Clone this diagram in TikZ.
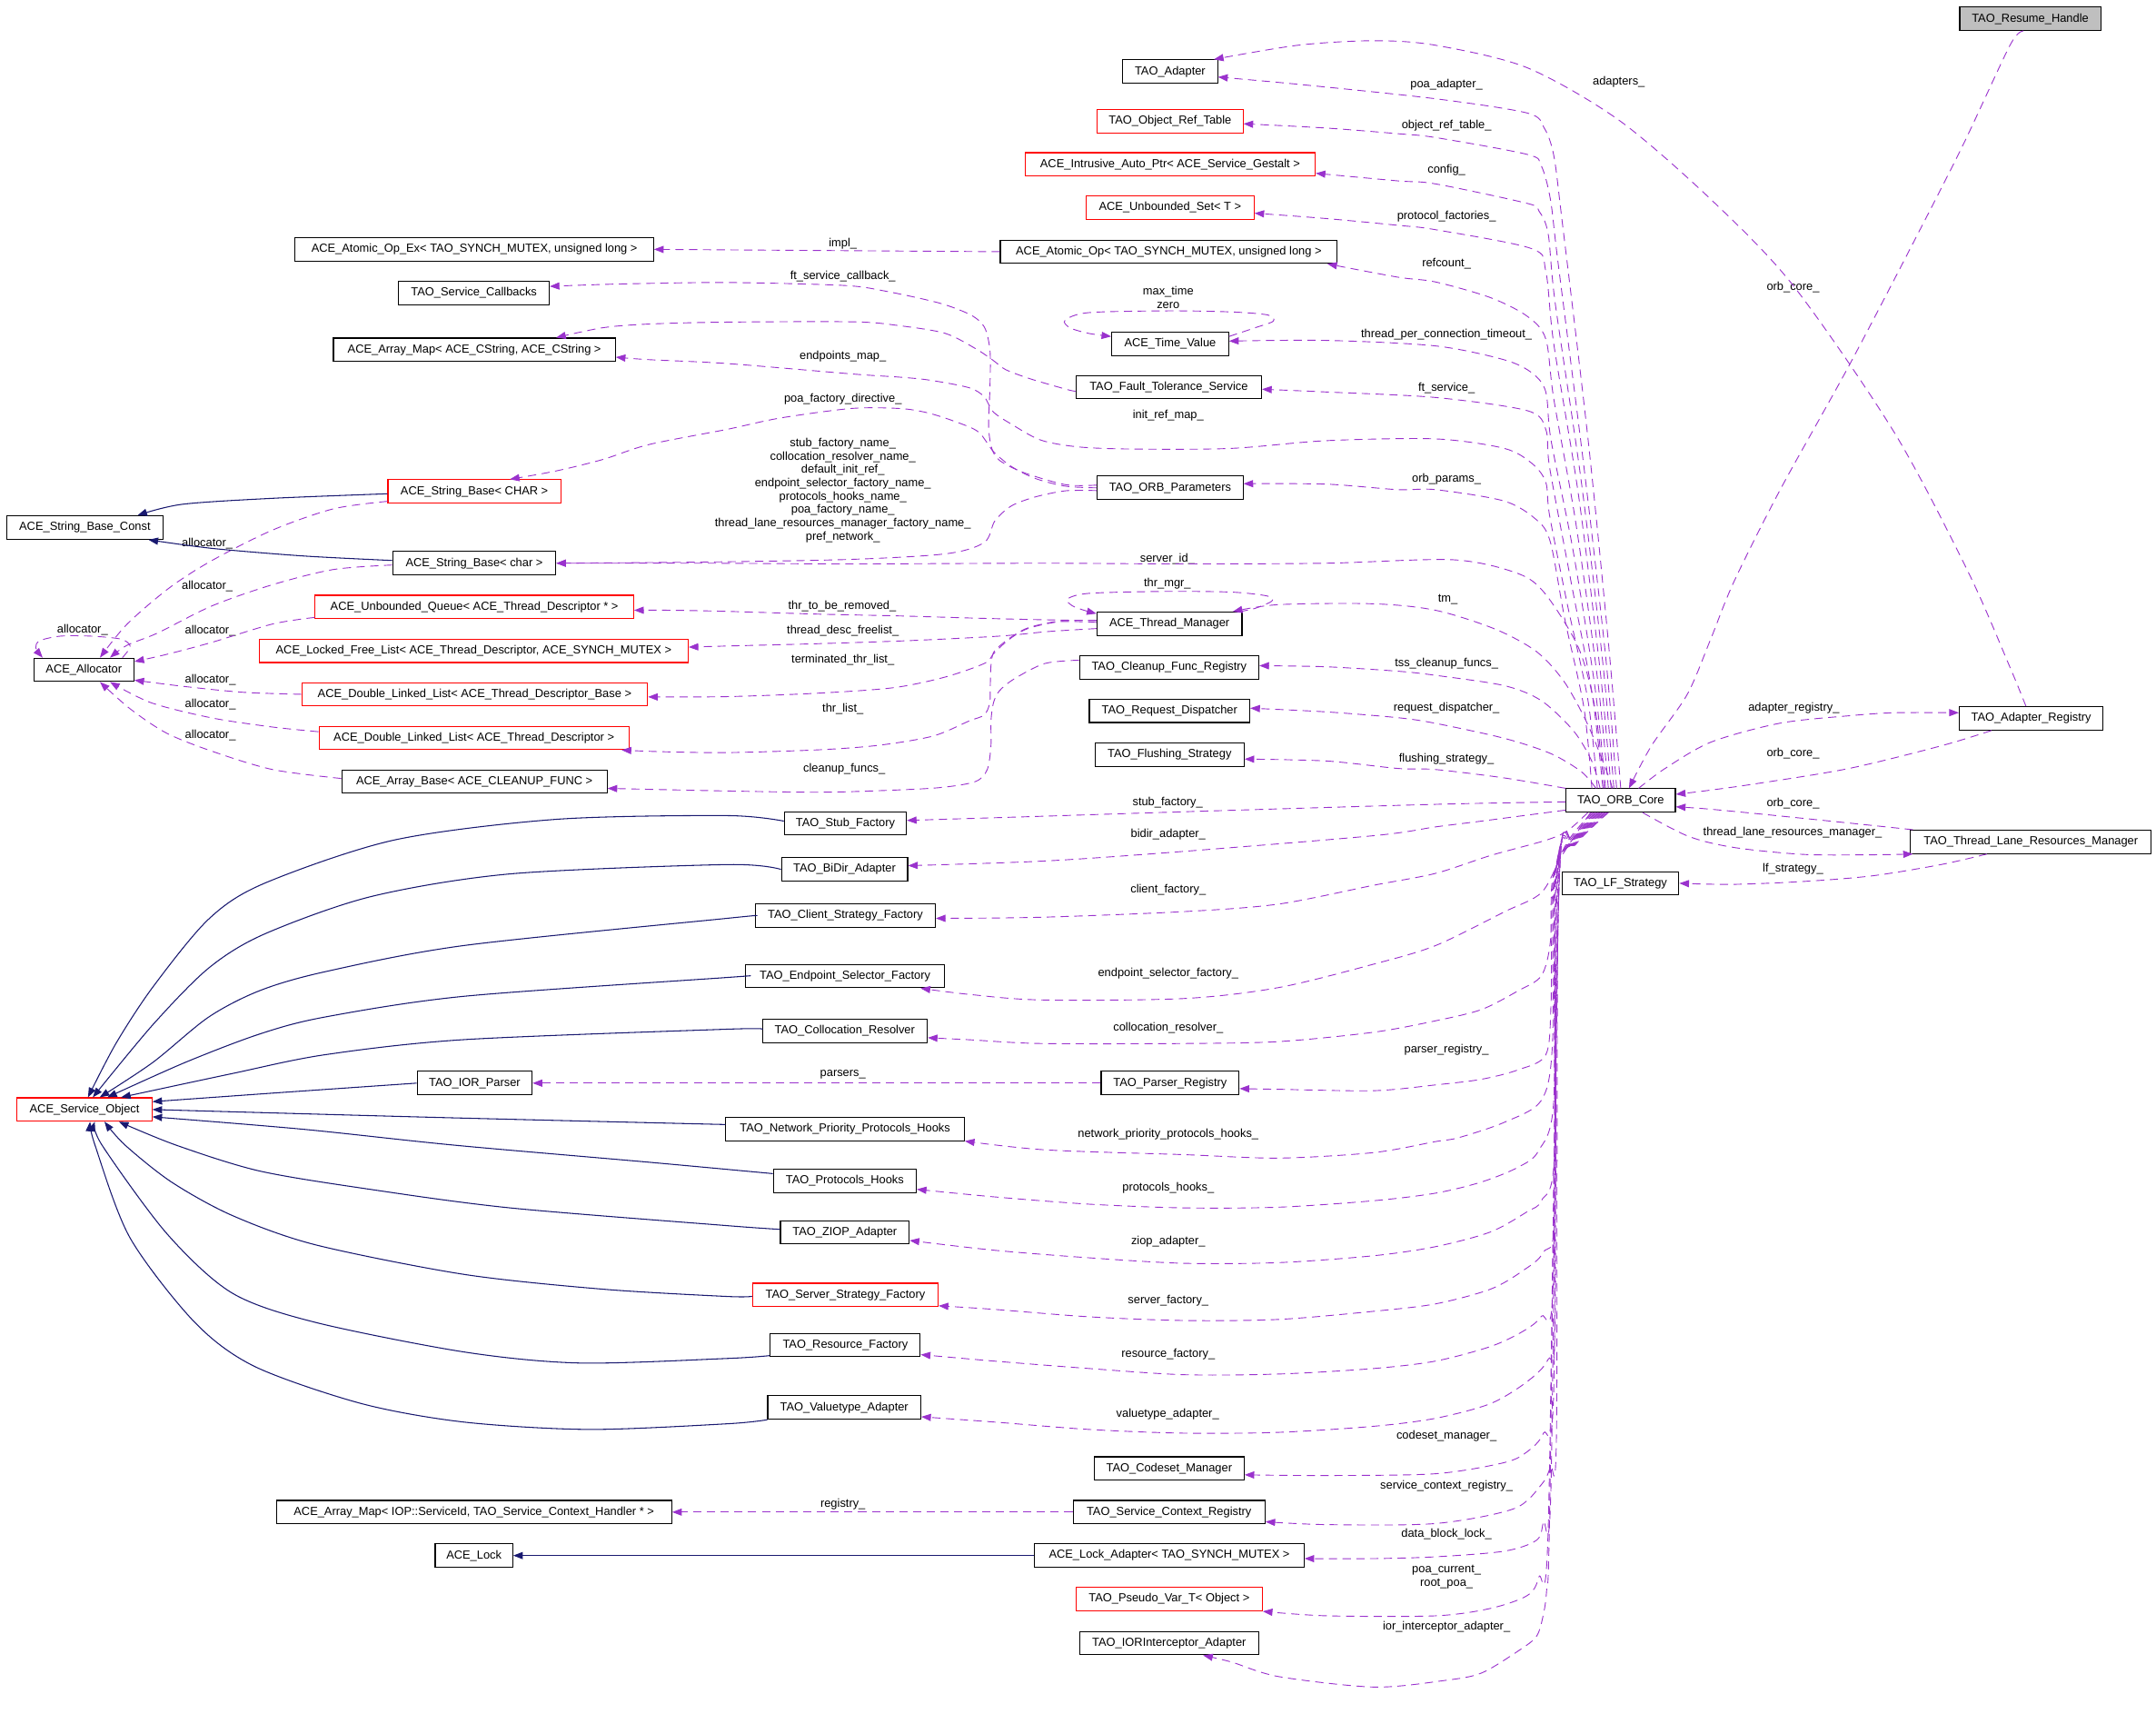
\documentclass[tikz,border=0pt]{standalone}
\usepackage{fontspec}
\setmainfont{Liberation Sans}
\usetikzlibrary{arrows.meta}
\definecolor{usecol}{HTML}{9A32CD}
\definecolor{inhcol}{HTML}{191970}
\definecolor{boxgrey}{HTML}{BFBFBF}
\tikzset{
  cls/.style={draw=black, line width=0.7pt, minimum height=17pt, inner sep=1pt, fill=white, font=\fontsize{8.5}{9.7}\selectfont},
  redcls/.style={cls, draw=red},
  rootcls/.style={cls, fill=boxgrey},
  lbl/.style={inner sep=0pt, align=center, font=\fontsize{8.5}{9.7}\selectfont},
  usedge/.style={draw=usecol, line width=0.6pt, dash pattern=on 6pt off 4pt, -{Triangle[length=7pt,width=5.2pt]}},
  inhedge/.style={draw=inhcol, line width=0.7pt, -{Triangle[length=7pt,width=5.2pt]}},
}
\begin{document}
\begin{tikzpicture}[x=1pt,y=-1pt]
\fill[white] (0,0) rectangle (1568,1253);
\useasboundingbox (0,0) rectangle (1568,1253);

% ---------- nodes ----------
\node[rootcls, minimum width=102.5pt] (resume) at (1476.5,13.7) {TAO\_Resume\_Handle};
\node[cls, minimum width=69pt] (adapter) at (851,52) {TAO\_Adapter};
\node[redcls, minimum width=106pt] (objref) at (851,88) {TAO\_Object\_Ref\_Table};
\node[redcls, minimum width=211pt] (intrusive) at (851,119.5) {ACE\_Intrusive\_Auto\_Ptr< ACE\_Service\_Gestalt >};
\node[redcls, minimum width=122pt] (uset) at (851,151) {ACE\_Unbounded\_Set< T >};
\node[cls, minimum width=245pt] (atomic) at (850,183) {ACE\_Atomic\_Op< TAO\_SYNCH\_MUTEX, unsigned long >};
\node[cls, minimum width=260.6pt] (atomicex) at (345,181.3) {ACE\_Atomic\_Op\_Ex< TAO\_SYNCH\_MUTEX, unsigned long >};
\node[cls, minimum width=109.5pt] (svccb) at (344.7,213) {TAO\_Service\_Callbacks};
\node[cls, minimum width=85pt] (timeval) at (851,250) {ACE\_Time\_Value};
\node[cls, minimum width=205pt] (amapcs) at (345,254.3) {ACE\_Array\_Map< ACE\_CString, ACE\_CString >};
\node[cls, minimum width=135pt] (fts) at (850,281.5) {TAO\_Fault\_Tolerance\_Service};
\node[cls, minimum width=106pt] (orbparams) at (851,354.7) {TAO\_ORB\_Parameters};
\node[redcls, minimum width=125.7pt] (sbCHAR) at (345,357.3) {ACE\_String\_Base< CHAR >};
\node[cls, minimum width=114pt] (sbconst) at (61.7,383.6) {ACE\_String\_Base\_Const};
\node[cls, minimum width=118.7pt] (sbchar) at (344.9,409.5) {ACE\_String\_Base< char >};
\node[redcls, minimum width=231.6pt] (uqueue) at (345,441.3) {ACE\_Unbounded\_Queue< ACE\_Thread\_Descriptor * >};
\node[cls, minimum width=105.5pt] (thrmgr) at (850.5,453.5) {ACE\_Thread\_Manager};
\node[redcls, minimum width=312pt] (lfl) at (344.5,473.2) {ACE\_Locked\_Free\_List< ACE\_Thread\_Descriptor, ACE\_SYNCH\_MUTEX >};
\node[cls, minimum width=72.8pt] (allocator) at (61,487) {ACE\_Allocator};
\node[cls, minimum width=130.5pt] (cleanup) at (850.3,485.3) {TAO\_Cleanup\_Func\_Registry};
\node[redcls, minimum width=251.5pt] (dllbase) at (345.2,504.8) {ACE\_Double\_Linked\_List< ACE\_Thread\_Descriptor\_Base >};
\node[cls, minimum width=116.7pt] (reqdisp) at (850.6,516.8) {TAO\_Request\_Dispatcher};
\node[cls, minimum width=104.5pt] (adreg) at (1477.2,522.3) {TAO\_Adapter\_Registry};
\node[redcls, minimum width=225.5pt] (dlltd) at (344.7,536.5) {ACE\_Double\_Linked\_List< ACE\_Thread\_Descriptor >};
\node[cls, minimum width=108.4pt] (flush) at (850.6,548.7) {TAO\_Flushing\_Strategy};
\node[cls, minimum width=193pt] (arraybase) at (345,568.2) {ACE\_Array\_Base< ACE\_CLEANUP\_FUNC >};
\node[cls, minimum width=79.5pt] (orbcore) at (1178.7,582) {TAO\_ORB\_Core};
\node[cls, minimum width=88.8pt] (stub) at (614.8,598.7) {TAO\_Stub\_Factory};
\node[cls, minimum width=175pt] (tlrm) at (1477,612.1) {TAO\_Thread\_Lane\_Resources\_Manager};
\node[cls, minimum width=91.8pt] (bidir) at (614.2,632.1) {TAO\_BiDir\_Adapter};
\node[cls, minimum width=85pt] (lf) at (1178.5,642.2) {TAO\_LF\_Strategy};
\node[cls, minimum width=131pt] (client) at (614.8,665.8) {TAO\_Client\_Strategy\_Factory};
\node[cls, minimum width=144.4pt] (endpoint) at (614.6,709.7) {TAO\_Endpoint\_Selector\_Factory};
\node[cls, minimum width=120pt] (colloc) at (614.4,749.5) {TAO\_Collocation\_Resolver};
\node[cls, minimum width=83.6pt] (iorparser) at (345.2,787.5) {TAO\_IOR\_Parser};
\node[cls, minimum width=100.3pt] (parserreg) at (851,787.5) {TAO\_Parser\_Registry};
\node[redcls, minimum width=98pt] (svcobj) at (61.5,806.7) {ACE\_Service\_Object};
\node[cls, minimum width=173.5pt] (netprio) at (614.6,820.8) {TAO\_Network\_Priority\_Protocols\_Hooks};
\node[cls, minimum width=104pt] (protohooks) at (614.4,858.7) {TAO\_Protocols\_Hooks};
\node[cls, minimum width=93.6pt] (ziop) at (614.4,896) {TAO\_ZIOP\_Adapter};
\node[redcls, minimum width=135pt] (serverstrat) at (614.8,941.5) {TAO\_Server\_Strategy\_Factory};
\node[cls, minimum width=109pt] (resfact) at (614.8,977.9) {TAO\_Resource\_Factory};
\node[cls, minimum width=111.3pt] (valuetype) at (614,1023.4) {TAO\_Valuetype\_Adapter};
\node[cls, minimum width=109pt] (codeset) at (850.3,1067.7) {TAO\_Codeset\_Manager};
\node[cls, minimum width=287.6pt] (amapiop) at (344.7,1099.4) {ACE\_Array\_Map< IOP::ServiceId, TAO\_Service\_Context\_Handler * >};
\node[cls, minimum width=139.6pt] (scr) at (850.2,1099.4) {TAO\_Service\_Context\_Registry};
\node[cls, minimum width=56.4pt] (acelock) at (344.7,1131) {ACE\_Lock};
\node[cls, minimum width=196pt] (lockadapter) at (850.4,1131) {ACE\_Lock\_Adapter< TAO\_SYNCH\_MUTEX >};
\node[redcls, minimum width=135.5pt] (pseudovar) at (850.3,1162.7) {TAO\_Pseudo\_Var\_T< Object >};
\node[cls, minimum width=130.5pt] (iorint) at (850.3,1194.7) {TAO\_IORInterceptor\_Adapter};

% ---------- labels ----------
\node[lbl] (l1) at (1052,61.4) {poa\_adapter\_};
\node[lbl] (l2) at (1052,91.5) {object\_ref\_table\_};
\node[lbl] (l3) at (1052,123.8) {config\_};
\node[lbl] (l4) at (1052,157.5) {protocol\_factories\_};
\node[lbl] (l5) at (1052,192) {refcount\_};
\node[lbl] (l6) at (849.6,216.2) {max\_time\\zero};
\node[lbl] (l7) at (1052,243.5) {thread\_per\_connection\_timeout\_};
\node[lbl] (l8) at (1052,282) {ft\_service\_};
\node[lbl] (l9) at (849.6,301.8) {init\_ref\_map\_};
\node[lbl] (l10) at (1052,348.1) {orb\_params\_};
\node[lbl] (l11) at (849,406.7) {server\_id\_};
\node[lbl] (l12) at (849,424.5) {thr\_mgr\_};
\node[lbl] (l13) at (1053,436) {tm\_};
\node[lbl] (l14) at (1052,482.6) {tss\_cleanup\_funcs\_};
\node[lbl] (l15) at (1052,515.1) {request\_dispatcher\_};
\node[lbl] (l16) at (1052,551.9) {flushing\_strategy\_};
\node[lbl] (l17) at (849.2,583.7) {stub\_factory\_};
\node[lbl] (l18) at (849.6,607) {bidir\_adapter\_};
\node[lbl] (l19) at (849.6,647.2) {client\_factory\_};
\node[lbl] (l20) at (849.6,708) {endpoint\_selector\_factory\_};
\node[lbl] (l21) at (849.6,747.7) {collocation\_resolver\_};
\node[lbl] (l22) at (1052,763.6) {parser\_registry\_};
\node[lbl] (l23) at (849.6,824.9) {network\_priority\_protocols\_hooks\_};
\node[lbl] (l24) at (849.6,864) {protocols\_hooks\_};
\node[lbl] (l25) at (849.6,902.9) {ziop\_adapter\_};
\node[lbl] (l26) at (849.6,945.8) {server\_factory\_};
\node[lbl] (l27) at (849.6,984.7) {resource\_factory\_};
\node[lbl] (l28) at (849.2,1028.5) {valuetype\_adapter\_};
\node[lbl] (l29) at (1052,1043.8) {codeset\_manager\_};
\node[lbl] (l30) at (1052,1080.5) {service\_context\_registry\_};
\node[lbl] (l31) at (1052,1115.7) {data\_block\_lock\_};
\node[lbl] (l32) at (1052,1146.6) {poa\_current\_\\root\_poa\_};
\node[lbl] (l33) at (1052,1182.8) {ior\_interceptor\_adapter\_};
\node[lbl] (l34) at (1177.3,59.7) {adapters\_};
\node[lbl] (l35) at (1304,209) {orb\_core\_};
\node[lbl] (l36) at (1304.6,515.1) {adapter\_registry\_};
\node[lbl] (l37) at (1304,547.8) {orb\_core\_};
\node[lbl] (l38) at (1304,584.5) {orb\_core\_};
\node[lbl] (l39) at (1303.7,605.5) {thread\_lane\_resources\_manager\_};
\node[lbl] (l40) at (1304,631.5) {lf\_strategy\_};
\node[lbl] (l41) at (613,177.5) {impl\_};
\node[lbl] (l42) at (613,201) {ft\_service\_callback\_};
\node[lbl] (l43) at (613,259.4) {endpoints\_map\_};
\node[lbl] (l44) at (613,290) {poa\_factory\_directive\_};
\node[lbl] (l45) at (613,356.4) {stub\_factory\_name\_\\collocation\_resolver\_name\_\\default\_init\_ref\_\\endpoint\_selector\_factory\_name\_\\protocols\_hooks\_name\_\\poa\_factory\_name\_\\thread\_lane\_resources\_manager\_factory\_name\_\\pref\_network\_};
\node[lbl] (l46) at (612.5,441) {thr\_to\_be\_removed\_};
\node[lbl] (l47) at (613,458.7) {thread\_desc\_freelist\_};
\node[lbl] (l48) at (613,480.1) {terminated\_thr\_list\_};
\node[lbl] (l49) at (613,515.7) {thr\_list\_};
\node[lbl] (l50) at (614,559.3) {cleanup\_funcs\_};
\node[lbl] (l51) at (613,781.3) {parsers\_};
\node[lbl] (l52) at (613,1093.4) {registry\_};
\node[lbl] (l53) at (150.7,395.2) {allocator\_};
\node[lbl] (l54) at (150.7,426.5) {allocator\_};
\node[lbl] (l55) at (60,457.9) {allocator\_};
\node[lbl] (l56) at (153,458.7) {allocator\_};
\node[lbl] (l57) at (153,494.6) {allocator\_};
\node[lbl] (l58) at (153,512.4) {allocator\_};
\node[lbl] (l59) at (153,534.4) {allocator\_};

% ---------- ORB core: upper fan ----------
\draw[usedge] plot[smooth] coordinates {(orbcore.north) (1170,470) (1155,320) (1136,160) (1130,113) (1123,93) (1110.8,82.2) (1044,71.8) (947.4,61.6) ([yshift=-4pt]adapter.east)};
\draw[usedge] plot[smooth] coordinates {([xshift=-3pt]orbcore.north) (1168,480) (1152,340) (1133,190) (1127.6,145.2) (1120.9,120.5) (1110.8,112.3) (1044,100) (1016.5,97.2) (964.6,93.1) ([yshift=-2pt]objref.east)};
\draw[usedge] plot[smooth] coordinates {([xshift=-5pt]orbcore.north) (1166,485) (1150,350) (1131,220) (1125.9,169.8) (1119.2,153.4) (1110.8,147.9) (1044,133.7) (1016.5,131.5) ([yshift=-6.5pt]intrusive.east)};
\draw[usedge] plot[smooth] coordinates {([xshift=-7pt]orbcore.north) (1164,490) (1148,360) (1130,250) (1124.2,197.2) (1114,180.8) (1044,167) (1016.5,163.8) (964.6,158.9) ([yshift=-4pt]uset.east)};
\draw[usedge] plot[smooth] coordinates {([xshift=-9pt]orbcore.north) (1162,495) (1146,380) (1130,290) (1124.2,246.5) (1110.8,230) (1084,216.4) (1044,205) (1016.5,201.5) ([xshift=-7.5pt]atomic.south east)};
\draw[usedge] plot[smooth] coordinates {([xshift=-11pt]orbcore.north) (1160,500) (1144,400) (1128,320) (1124.2,284.9) (1114.2,271.2) (1094,261.6) (1044,251.5) (965,247.5) ([yshift=2pt]timeval.east)};
\draw[usedge] plot[smooth] coordinates {([xshift=-13pt]orbcore.north) (1158,505) (1142,420) (1127,340) (1124.2,312.2) (1110.8,298.6) (1044,289) (964.6,285) ([yshift=-1.5pt]fts.east)};
\draw[usedge] plot[smooth] coordinates {([xshift=-17pt]orbcore.north) (1155,510) (1140,440) (1127,375) (1124.2,350.6) (1114.2,337) (1094,326) (1044,319.1) (964.6,320.4) (895.5,326) (826,326.5) (785,325) (757,320) (735.6,308.4) (722.4,299.5) (715.8,288.5) (704.8,281.9) (676.2,276.4) (654.2,274.2) (621,272) (528.6,264.3) (472,261.5) ([yshift=-5.4pt]amapcs.east)};
\draw[usedge] plot[smooth] coordinates {([xshift=-21pt]orbcore.north) (1152,515) (1138,450) (1127.6,394.4) (1117.5,378) (1094,364.3) (1044,356) (1016.5,356) (964.6,352) ([yshift=3pt]orbparams.east)};
\draw[usedge] plot[smooth] coordinates {([xshift=-12pt]orbcore.north) (1160,515) (1148,471) (1124,432) (1104,417) (1057,407) (964.6,409.5) (861,410) (757,409.5) (619,410) (515,409.5) (sbchar.east)};
\draw[usedge] plot[smooth] coordinates {([xshift=-6pt]orbcore.north) (1167.7,558.7) (1154.3,525.9) (1137.6,495.7) (1117.5,473.8) (1087.4,457.4) (1044,443.7) (999,439) (930,439.6) ([xshift=-7pt]thrmgr.north east)};
\draw[usedge] plot[smooth] coordinates {([xshift=-15pt]orbcore.north) (1157.6,553.3) (1144.3,531.3) (1120.9,509.4) (1094,498.5) (1044,491) (1016.5,488) (964.7,484.8) ([yshift=1.3pt]cleanup.east)};
\draw[usedge] plot[smooth] coordinates {([xshift=-18pt]orbcore.north) (1150,561) (1127.6,547.8) (1094,536.8) (1044,525.9) (1016.5,521.8) (964.7,517.6) ([yshift=1.9pt]reqdisp.east)};
\draw[usedge] plot[smooth] coordinates {(orbcore.north west) (1094,565.6) (1044,559.5) (1016.5,558.7) (964.7,553.3) ([yshift=-3.2pt]flush.east)};

% ---------- ORB core: lower fan ----------
\draw[usedge] plot[smooth] coordinates {([yshift=-1pt]orbcore.west) (1044,584.8) (861,590.2) (757,593.5) ([yshift=2.2pt]stub.east)};
\draw[usedge] plot[smooth] coordinates {([yshift=-7pt]orbcore.west) (1077.4,597) (1044,601.2) (1000,607.5) (861,619) (760,626) ([yshift=2.7pt]bidir.east)};
\draw[usedge] plot[smooth] coordinates {([xshift=-24pt]orbcore.south) (1140,604) (1124,611) (1084,622) (1044,635) (999.2,643.6) (930,657.3) (861,662.8) (757,666.9) ([yshift=-1.9pt]client.east)};
\draw[usedge] plot[smooth] coordinates {([xshift=-22pt]orbcore.south) (1136,622) (1121,649) (1094,663) (1044,687.5) (999,701) (930,718) (861,726) (757,727) (705,723) ([xshift=-17.6pt]endpoint.south east)};
\draw[usedge] plot[smooth] coordinates {([xshift=-21pt]orbcore.south) (1140,612) (1129,640) (1127.5,685) (1121,709.4) (1104.2,720.3) (1077.4,734) (1044,742.2) (999,750.5) (930,757.3) (861,758.7) (757,758.7) (705.5,756) ([yshift=-5pt]colloc.east)};
\draw[usedge] plot[smooth] coordinates {([xshift=-20pt]orbcore.south) (1140.5,613) (1129.5,640) (1128,730) (1124.2,766.9) (1104.2,777.8) (1077.4,784.7) (1044,788.8) (999,793) (930,792) ([yshift=-4pt]parserreg.east)};
\draw[usedge] plot[smooth] coordinates {([xshift=-19pt]orbcore.south) (1141,614) (1130,640) (1129,760) (1121,800) (1094,816) (1060.7,827.2) (1044,830) (999,838) (930,842) (861,839.5) (760,836) (netprio.south east)};
\draw[usedge] plot[smooth] coordinates {([xshift=-18pt]orbcore.south) (1141.5,614) (1130.5,640) (1130,800) (1119,836.6) (1104,848.7) (1077.4,859.4) (1044,867.5) (999,873) (930,877.7) (861,878.2) (792,875.5) (723,870.2) ([yshift=-6pt]protohooks.east)};
\draw[usedge] plot[smooth] coordinates {([xshift=-17pt]orbcore.south) (1142,614) (1131,640) (1130.5,840) (1121,872.9) (1110.8,880.9) (1084,895.7) (1044,906.4) (999,913) (930,918) (861,918.5) (792,914.5) (723,909) ([yshift=-5.9pt]ziop.east)};
\draw[usedge] plot[smooth] coordinates {([xshift=-16pt]orbcore.south) (1142.5,614) (1131.5,640) (1131,880) (1122.5,910.4) (1107.5,923.9) (1084,937.3) (1044,948) (999,953.4) (930,959.3) (861,960.1) (792,957.4) (723,952) ([yshift=-7.9pt]serverstrat.east)};
\draw[usedge] plot[smooth] coordinates {([xshift=-15pt]orbcore.south) (1143,614) (1132,640) (1129.5,935) (1121,957) (1107.5,968) (1084,979) (1044,989.6) (999,995) (930,999) (861,999.5) (792,995) (723,989.6) ([yshift=-7pt]resfact.east)};
\draw[usedge] plot[smooth] coordinates {([xshift=-14pt]orbcore.south) (1143.5,614) (1132.5,640) (1131,960) (1125.9,988.3) (1110.8,1004.4) (1084,1020.5) (1044,1031.2) (999,1037) (930,1041.4) (861,1042) (792,1039.3) (723,1033.9) ([yshift=-6.7pt]valuetype.east)};
\draw[usedge] plot[smooth] coordinates {([xshift=-13pt]orbcore.south) (1144,614) (1133,640) (1130,1010) (1122.5,1042) (1110.8,1055.4) (1094,1063.4) (1044,1071.5) (965,1072.8) ([yshift=-4.6pt]codeset.east)};
\draw[usedge] plot[smooth] coordinates {([xshift=-12pt]orbcore.south) (1144.5,614) (1133.5,640) (1132,1040) (1127.6,1066) (1120.9,1079.5) (1100.8,1097) (1044,1107.7) (965,1108.5) ([yshift=-7pt]scr.east)};
\draw[usedge] plot[smooth] coordinates {([xshift=-11pt]orbcore.south) (1145,614) (1134,640) (1128,1080) (1122.5,1106.4) (1117.5,1119.8) (1094,1127.8) (1044,1131.9) (999,1133.2) ([yshift=-2.2pt]lockadapter.east)};
\draw[usedge] plot[smooth] coordinates {([xshift=-10pt]orbcore.south) (1145.5,614) (1134,640) (1126,1110) (1119.2,1146.6) (1110.8,1160) (1084,1169.4) (1044,1174.8) (965,1174.8) (pseudovar.south east)};
\draw[usedge] plot[smooth] coordinates {([xshift=-9pt]orbcore.south) (1146,614) (1134,640) (1127,1100) (1124.9,1154.7) (1122.5,1173.5) (1117.5,1189.6) (1104.2,1200.3) (1077.4,1216.4) (1050.7,1221.8) (999.3,1226.6) (930,1219) (895.6,1208.4) ([xshift=24.7pt]iorint.south)};

% ---------- right side ----------
\draw[usedge] plot[smooth] coordinates {([xshift=-5pt]resume.south) (1461.8,32.9) (1428.3,104) (1394.9,169.8) (1344.8,265.7) (1294.7,356) (1261,423) (1244,465) (1227,505) (1201,542.3) ([xshift=6pt]orbcore.north)};
\draw[usedge] plot[smooth] coordinates {([xshift=-3.8pt]adreg.north) (1461.6,484.7) (1431.6,416.3) (1378,315) (1304.6,208.2) (1244.5,145.2) (1177.7,87.6) (1110.8,49.3) (1044,32.9) (999,29.6) (943.9,32.9) ([xshift=-3pt]adapter.north east)};
\draw[usedge] plot[smooth] coordinates {([xshift=13pt]orbcore.north) (1211,558.7) (1244.5,539.5) (1294.6,525.8) (1344.8,520.4) (1378.2,518.2) ([yshift=4.1pt]adreg.west)};
\draw[usedge] plot[smooth] coordinates {([xshift=-28.9pt]adreg.south) (1411.6,542.3) (1344.8,558.7) (1277.9,569.7) (1240,575) ([yshift=4.5pt]orbcore.east)};
\draw[usedge] plot[smooth] coordinates {([xshift=2pt]tlrm.north west) (1344.8,598.4) (1277.9,591.6) (1240,588) ([yshift=-4.6pt]orbcore.east)};
\draw[usedge] plot[smooth] coordinates {([xshift=16pt]orbcore.south) (1227.8,608) (1261.2,616.2) (1311.4,621.2) (1360,621.5) ([xshift=2pt]tlrm.south west)};
\draw[usedge] plot[smooth] coordinates {([xshift=-32pt]tlrm.south) (1411.6,628.6) (1361.5,636.8) (1311.4,640.9) (1260,643) (lf.east)};

% ---------- middle / left purple ----------
\draw[usedge] (atomic.west) -- (atomicex.east);
\draw[usedge] plot[smooth] coordinates {([yshift=2pt]orbparams.west) (775,352.4) (744.5,343.6) (727,334.8) (721.3,326) (719,310) (720,280) (720,255) (716,238) (706,229) (683,220.3) (643,211.5) (613,207.5) (528.6,205.4) (450,206.5) ([yshift=4.8pt]svccb.east)};
\draw[usedge] plot[smooth] coordinates {([yshift=-3pt]fts.west) (775.3,283) (748.9,275.3) (731.3,268.7) (722.4,262.1) (709.2,253.3) (687.2,242.3) (654.2,236.8) (621,234) (528.6,234.2) (472,235.6) (438.3,238.3) ([xshift=59.5pt]amapcs.north)};
\draw[usedge] plot[smooth] coordinates {(orbparams.west) (775,353.5) (753.3,348) (735.6,339.2) (722.4,328.2) (711.4,313.9) (693.8,306.2) (674,300) (654.2,297) (619,297) (567,304) (528.6,312.2) (472,323.2) (438.3,334.1) (404.5,342.4) ([xshift=25.8pt]sbCHAR.north)};
\draw[usedge] plot[smooth] coordinates {([yshift=-2pt]orbparams.west) (775.3,356.8) (753.3,361.2) (735.6,367.8) (723.5,378.8) (715.8,394.4) (688.2,402.6) (619,406.7) (515.4,408.6) (sbchar.east)};
\draw[usedge] plot[smooth] coordinates {([yshift=5.4pt]timeval.east) (912.8,238.3) (926,233.5) (922,229) (895.5,226.8) (850.6,226) (791.8,227.3) (774.6,232.8) (778.1,238.3) (791.8,242.4) ([yshift=5.4pt]timeval.west)};
\draw[usedge] plot[smooth] coordinates {([xshift=-2pt]thrmgr.north east) (912.8,442.3) (925,437) (921.5,433.3) (895.5,430.5) (847,430) (792,431.4) (776.3,435.5) (779.8,440.4) (788.4,443.7) ([yshift=-1.5pt]thrmgr.north west)};
\draw[usedge] plot[smooth] coordinates {([yshift=2.2pt]thrmgr.west) (748.9,450.4) (704.8,449.3) (653.6,447.8) (594.7,446.5) (528.6,444.5) (488.8,443.7) ([yshift=-2.4pt]uqueue.east)};
\draw[usedge] plot[smooth] coordinates {([yshift=-3.5pt]thrmgr.west) (762,459.2) (726.8,462.5) (660.8,465.8) (594.7,468) (528.6,469.7) ([yshift=2.7pt]lfl.east)};
\draw[usedge] plot[smooth] coordinates {([yshift=1pt]thrmgr.west) (771,452) (749,456.5) (738,462) (729,469) (722,476) (715.8,482.4) (687.2,492.3) (649.8,500) (594.7,504) (528.6,506.5) ([yshift=-1.9pt]dllbase.east)};
\draw[usedge] plot[smooth] coordinates {([yshift=2.5pt]thrmgr.west) (771,451.5) (749,456) (738,461.5) (729,468) (722.5,474.5) (720.7,484) (720.2,497.8) (719.8,511) (715.8,519.8) (704.8,524.2) (678.4,535.2) (638.8,541.9) (594.7,545.2) (528.6,547.2) (480,546.5) ([xshift=-5.7pt]dlltd.south east)};
\draw[usedge] plot[smooth] coordinates {([yshift=5.3pt]cleanup.west) (759.9,482.4) (737.9,493.4) (726.9,502.2) (722.5,511) (720.7,524.2) (720.7,541.9) (718,559.5) (709.2,568.3) (682.8,572.7) (638.8,574.9) (594.7,576) (528.6,575.1) ([yshift=-5pt]arraybase.east)};
\draw[usedge] (parserreg.west) -- (iorparser.east);
\draw[usedge] (scr.west) -- (amapiop.east);

% ---------- allocator ----------
\draw[usedge] plot[smooth] coordinates {([yshift=-7.2pt]sbCHAR.west) (242.3,370) (198.2,385.4) (154.2,407.5) (123.3,427.3) (92.5,453.7) ([xshift=11.7pt]allocator.north)};
\draw[usedge] plot[smooth] coordinates {([yshift=-1.3pt]sbchar.west) (242.3,414.1) (198.2,425.1) (154.2,440.5) (114.5,460.3) (92.5,469.1) ([xshift=19pt]allocator.north)};
\draw[usedge] plot[smooth] coordinates {([xshift=28pt]allocator.north) (94.7,470) (88,464.7) (66,462.5) (44,462.5) (29,465.8) (26,471) ([xshift=-30pt]allocator.north)};
\draw[usedge] plot[smooth] coordinates {([yshift=-7.6pt]uqueue.west) (198.2,453.7) (154.2,467) (121.1,475.8) ([yshift=6pt]allocator.east)};
\draw[usedge] plot[smooth] coordinates {(dllbase.west) (176.2,503.3) (132.2,498.9) ([yshift=-7.5pt]allocator.east)};
\draw[usedge] plot[smooth] coordinates {([yshift=4.5pt]dlltd.west) (198.2,528.6) (154.2,522) (110.1,511) ([xshift=19pt]allocator.south)};
\draw[usedge] plot[smooth] coordinates {([yshift=2.2pt]arraybase.west) (198.2,559.5) (154.2,546.2) (121.1,533) (94.7,515.4) ([xshift=11.7pt]allocator.south)};

% ---------- inheritance ----------
\draw[inhedge] plot[smooth] coordinates {([yshift=-1.7pt]sbCHAR.west) (198.2,362.3) (132.2,366.7) ([xshift=38.3pt]sbconst.north)};
\draw[inhedge] plot[smooth] coordinates {([yshift=2pt]sbchar.west) (220.3,404.2) (154.2,398.7) ([xshift=46.3pt]sbconst.south)};
\draw[inhedge] (lockadapter.west) -- (acelock.east);
\draw[inhedge] plot[smooth] coordinates {([yshift=1.7pt]stub.west) (528.6,593) (404.5,595.7) (286.5,610.8) (192.1,642.3) (151.7,668.3) (111.2,717.6) (84.3,758.7) ([xshift=2.5pt]svcobj.north)};
\draw[inhedge] plot[smooth] coordinates {(bidir.west) (528.6,628.6) (370.8,635.4) (269.7,651.9) (192.1,679.2) (151.7,703.9) (111.2,745) ([xshift=6pt]svcobj.north)};
\draw[inhedge] plot[smooth] coordinates {(client.west) (528.6,667.7) (337.1,687.5) (236,706.6) (188.8,720.3) (151.7,739.5) (111.2,772.4) ([xshift=11pt]svcobj.north)};
\draw[inhedge] plot[smooth] coordinates {(endpoint.west) (528.6,710.7) (337.1,724.4) (236,739.5) (188.8,751.8) (134.8,772.4) ([xshift=16.5pt]svcobj.north)};
\draw[inhedge] plot[smooth] coordinates {([yshift=1.2pt]colloc.west) (528.6,748.3) (337.1,755.9) (236,766.9) (168.6,780.6) ([xshift=26.5pt]svcobj.north)};
\draw[inhedge] plot[smooth] coordinates {(iorparser.west) (202,794.5) ([yshift=5.7pt]svcobj.east)};
\draw[inhedge] plot[smooth] coordinates {([yshift=3.2pt]netprio.west) (320,812.5) (svcobj.east)};
\draw[inhedge] plot[smooth] coordinates {([yshift=5.4pt]protohooks.west) (471.9,845) (330.4,832.6) (220,821) ([yshift=-5.3pt]svcobj.east)};
\draw[inhedge] plot[smooth] coordinates {([yshift=2.2pt]ziop.west) (528.6,891.1) (370.8,878.2) (269.7,864.8) (188.8,851.4) (128.1,832.6) ([xshift=25pt]svcobj.south)};
\draw[inhedge] plot[smooth] coordinates {([yshift=-1pt]serverstrat.west) (528.6,942.6) (438.2,937.3) (337.1,926.5) (229.2,905) (168.6,883.6) (124.7,859.4) (91,832.6) ([xshift=14.5pt]svcobj.south)};
\draw[inhedge] plot[smooth] coordinates {([yshift=-7.7pt]resfact.west) (528.6,987.7) (421.4,991) (337.1,982.9) (229.2,961.4) (168.6,940) (121.4,897) (74.2,832.6) ([xshift=7.5pt]svcobj.south)};
\draw[inhedge] plot[smooth] coordinates {(valuetype.south west) (528.6,1035.2) (428.1,1039.3) (337.1,1033.9) (262.9,1020.5) (185.4,993.6) (141.6,961.4) (94.4,899.7) (69.1,832.6) ([xshift=4pt]svcobj.south)};
\end{tikzpicture}
\end{document}
